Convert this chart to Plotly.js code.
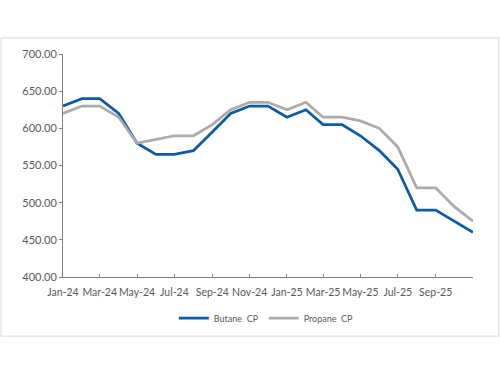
<!DOCTYPE html>
<html>
<head>
<meta charset="utf-8">
<script src="https://cdn.plot.ly/plotly-3.0.1.min.js"></script>
<style>html,body{margin:0;padding:0;background:#fff;}#chart{width:500px;height:375px;}</style>
</head>
<body>
<div id="chart"></div>
<script>
var months = ["2024-01-01","2024-02-01","2024-03-01","2024-04-01","2024-05-01","2024-06-01","2024-07-01","2024-08-01","2024-09-01","2024-10-01","2024-11-01","2024-12-01",
              "2025-01-01","2025-02-01","2025-03-01","2025-04-01","2025-05-01","2025-06-01","2025-07-01","2025-08-01","2025-09-01","2025-10-01","2025-11-01"];
var butaneCP = [630,640,640,620,580,565,565,570,595,620,630,630,615,625,605,605,590,570,545,490,490,475,460];
var propaneCP = [620,630,630,615,580,585,590,590,605,625,635,635,625,635,615,615,610,600,575,520,520,495,475];
var seriesNames = ["Butane\u00A0 CP", "Propane\u00A0 CP"];
var tickDates = ["2024-01-01","2024-03-01","2024-05-01","2024-07-01","2024-09-01","2024-11-01",
                 "2025-01-01","2025-03-01","2025-05-01","2025-07-01","2025-09-01"];
var tickLabels = ["Jan-24","Mar-24","May-24","Jul-24","Sep-24","Nov-24","Jan-25","Mar-25","May-25","Jul-25","Sep-25"];

var fontFam = "Lato, 'Open Sans', sans-serif";
var data = [
  {x: months, y: butaneCP, name: seriesNames[0], type: "scatter", mode: "lines",
   line: {color: "#0B5AA6", width: 2.75}},
  {x: months, y: propaneCP, name: seriesNames[1], type: "scatter", mode: "lines",
   line: {color: "#ABABAB", width: 2.75}}
];
var layout = {
  width: 500, height: 375,
  margin: {l: 63, r: 27, t: 54, b: 98},
  paper_bgcolor: "#fff", plot_bgcolor: "#fff",
  showlegend: true,
  font: {family: fontFam, size: 11, color: "#595959"},
  xaxis: {
    type: "date",
    range: [months[0], months[months.length - 1]],
    tickmode: "array", tickvals: tickDates, ticktext: tickLabels,
    tickangle: 0,
    ticklabelstandoff: 5,
    showgrid: false, zeroline: false,
    showline: true, linecolor: "#7f7f7f", linewidth: 1,
    ticks: "inside", ticklen: 3, tickcolor: "#7f7f7f",
    tickfont: {family: fontFam, size: 10.5, color: "#595959"},
    fixedrange: true
  },
  yaxis: {
    range: [400, 700], dtick: 50,
    tickformat: ".2f",
    showgrid: false, zeroline: false,
    showline: true, linecolor: "#7f7f7f", linewidth: 1,
    ticks: "outside", ticklen: 3, tickcolor: "#7f7f7f",
    tickfont: {family: fontFam, size: 11, color: "#595959"},
    fixedrange: true
  },
  legend: {
    orientation: "h", x: 0.496, xanchor: "center", y: -0.184, yanchor: "middle",
    font: {family: fontFam, size: 9, color: "#595959"},
    itemwidth: 30
  },
  shapes: [{
    type: "rect", xref: "paper", yref: "paper",
    x0: -0.151, x1: 1.063, y0: -0.265, y1: 1.072,
    line: {color: "#d9d9d9", width: 1}, fillcolor: "rgba(0,0,0,0)", layer: "below"
  }]
};
Plotly.newPlot("chart", data, layout, {staticPlot: true, displayModeBar: false});
</script>
</body>
</html>
